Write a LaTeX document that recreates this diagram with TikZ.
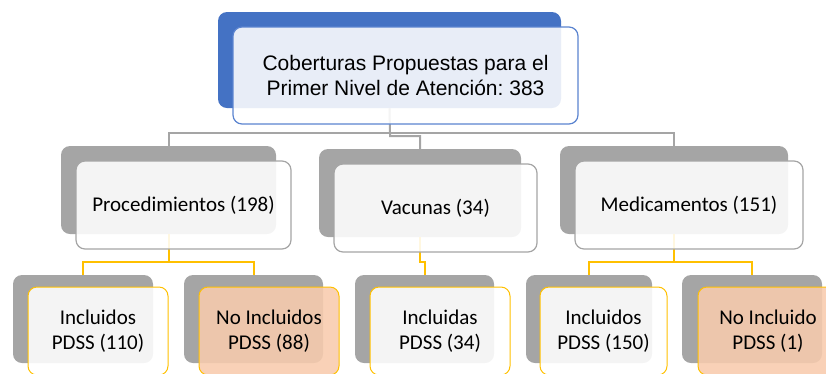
\documentclass[tikz,border=0pt]{standalone}
\usepackage{fontspec}
\setmainfont{Carlito}
\newfontfamily\arialfont{Liberation Sans}
\frenchspacing

\definecolor{backgray}{HTML}{A5A5A5}
\definecolor{topblue}{HTML}{4472C4}
\definecolor{lineblue}{HTML}{5B84D0}
\definecolor{gold}{HTML}{FFC000}
\definecolor{peach}{HTML}{F8CBAD}

\tikzset{
  backbox/.style={rectangle,rounded corners=9pt,inner sep=0pt,minimum height=88pt},
  frontbox/.style={rectangle,rounded corners=9pt,inner sep=0pt,minimum height=88pt,
    fill=white,fill opacity=0.88,text opacity=1,align=center,font=\fontsize{21}{25}\selectfont},
  grayline/.style={draw=backgray,line width=2pt},
  goldline/.style={draw=gold,line width=2pt}
}

\begin{document}
\begin{tikzpicture}[x=1pt,y=-1pt]
\useasboundingbox (0,0) rectangle (826,373);
\clip (0,0) rectangle (826,373);

% back boxes
\node[backbox,fill=topblue,minimum width=343pt,minimum height=96pt] (topB) at (389.5,60) {};
\begin{scope}[every node/.style={backbox,fill=backgray}]
  \node[minimum width=215pt] (procB) at (168.5,190) {};
  \node[minimum width=202pt] (vacB) at (420,193) {};
  \node[minimum width=228pt] (medB) at (674,190) {};
  \node[minimum width=140pt] (inc110B) at (83,319) {};
  \node[minimum width=139pt] (noinc88B) at (253.5,319) {};
  \node[minimum width=139pt] (incvacB) at (424.5,319) {};
  \node[minimum width=126pt] (inc150B) at (589,319) {};
  \node[minimum width=140pt] (noinc1B) at (752,319) {};
\end{scope}

% connectors
\coordinate (bus) at (390,133);
\coordinate (procJ) at (168.5,262);
\coordinate (vacJ) at (420,262);
\coordinate (medJ) at (674,262);
\begin{scope}[every path/.style={grayline}]
  \draw (procB.north) |- (bus) -| (medB.north);
  \draw (topB.south) -- (bus) -- ++(0,3) -| (vacB.north);
\end{scope}
\begin{scope}[every path/.style={goldline}]
  \draw (procB.south) -- (procJ);
  \draw (inc110B.north) |- (procJ) -| (noinc88B.north);
  \draw (vacB.south) -- (vacJ) -| (incvacB.north);
  \draw (medB.south) -- (medJ);
  \draw (inc150B.north) |- (medJ) -| (noinc1B.north);
\end{scope}

% front boxes
\node[frontbox,draw=lineblue,line width=1.2pt,minimum width=345pt,minimum height=97pt,
  font=\arialfont\fontsize{21}{25}\selectfont] (top) at (405.5,75.5)
  {Coberturas Propuestas para el\\Primer Nivel de Atención: 383};
\begin{scope}[every node/.style={frontbox,draw=backgray,line width=1.2pt}]
  \node[minimum width=215pt] (proc) at (183.5,205) {Procedimientos (198)};
  \node[minimum width=203pt] (vac) at (435.5,208) {Vacunas (34)};
  \node[minimum width=228pt] (med) at (689,205) {Medicamentos (151)};
\end{scope}
\begin{scope}[every node/.style={frontbox,draw=gold,line width=1pt,minimum width=140pt}]
  \node (inc110) at (98,331) {Incluidos\\PDSS (110)};
  \node[fill=peach] (noinc88) at (269,331) {No Incluidos\\PDSS (88)};
  \node (incvac) at (440,331) {Incluidas\\PDSS (34)};
  \node[minimum width=127pt] (inc150) at (603.5,331) {Incluidos\\PDSS (150)};
  \node[fill=peach] (noinc1) at (768,331) {No Incluido\\PDSS (1)};
\end{scope}
\end{tikzpicture}
\end{document}
